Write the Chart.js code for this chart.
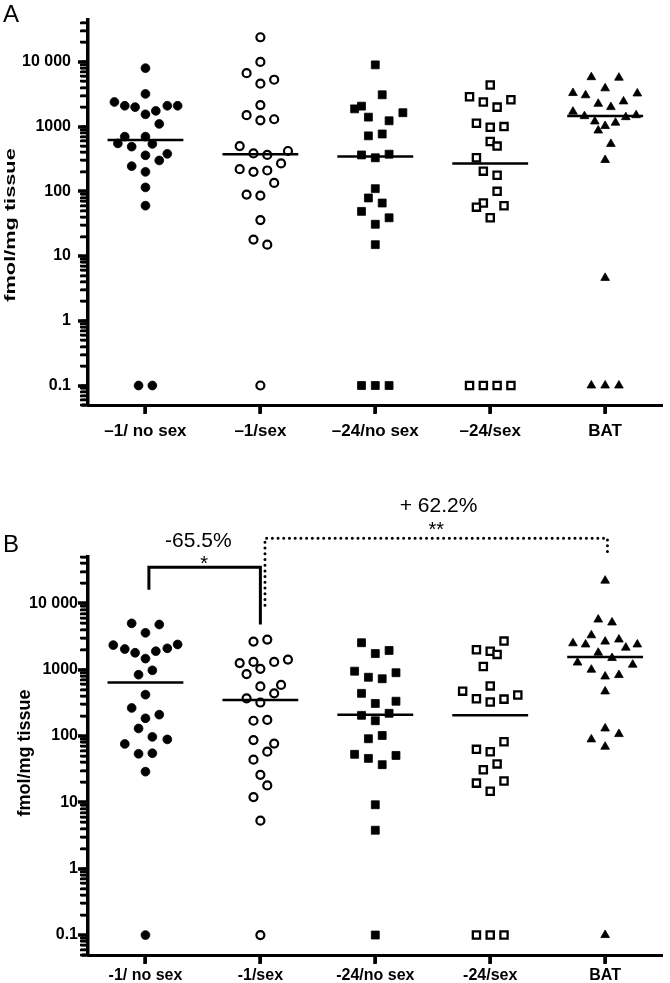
<!DOCTYPE html>
<html>
<head>
<meta charset="utf-8">
<script src="https://cdn.jsdelivr.net/npm/chart.js@4.4.1/dist/chart.umd.min.js"></script>
<style>
  html, body { margin: 0; padding: 0; background: #fff; }
  #wrap { position: relative; width: 670px; height: 983px; overflow: hidden; }
  canvas { position: absolute; left: 0; }
  #chartA { top: 0; }
  #chartB { top: 470px; }
</style>
</head>
<body>
<div id="wrap">
  <canvas id="chartA" width="670" height="450"></canvas>
  <canvas id="chartB" width="670" height="513"></canvas>
</div>
<script>
const FONT = "'Liberation Sans', Arial, Helvetica, sans-serif";

const categoriesA = ["\u20131/ no sex", "\u20131/sex", "\u201324/no sex", "\u201324/sex", "BAT"];
const categoriesB = ["-1/ no sex", "-1/sex", "-24/no sex", "-24/sex", "BAT"];
const yTickValues = [0.1, 1, 10, 100, 1000, 10000];
const yTickLabels = ["0.1", "1", "10", "100", "1000", "10 000"];

// panel A: fmol/mg tissue per animal (0.1 = not detected), jitter = horizontal spread in category units
const aNoSex1 = [8000, 3200, 2400, 2100, 2000, 1550, 1750, 2100, 2100, 1100, 700, 700, 550, 490, 540, 360, 380, 300, 245, 200, 115, 60, 0.1, 0.1];
const aNoSex1Jitter = [0, 0, -0.27, -0.18, -0.09, 0, 0.09, 0.19, 0.28, 0.12, -0.18, 0, -0.24, -0.12, 0.06, 0, 0.19, 0.12, -0.12, 0, 0, 0, -0.06, 0.06];
const aSex1 = [24000, 10000, 6700, 5300, 4600, 2150, 1500, 1250, 1300, 500, 385, 365, 420, 220, 200, 210, 270, 135, 89, 86, 36, 18, 15, 0.1];
const aSex1Jitter = [0, 0, -0.12, 0.12, 0, 0, -0.12, 0, 0.12, -0.18, -0.06, 0.06, 0.24, -0.18, -0.06, 0.06, 0.18, 0.12, -0.12, 0, 0, -0.06, 0.06, 0];
const aNoSex24 = [9000, 3100, 2070, 1880, 1640, 1400, 1230, 720, 770, 365, 330, 375, 110, 79, 66, 49, 39, 31, 15, 0.1, 0.1, 0.1];
const aNoSex24Jitter = [0, 0.06, -0.12, -0.18, 0.24, -0.06, 0.12, -0.06, 0.06, -0.12, 0, 0.12, 0, -0.06, 0.06, -0.12, 0.12, 0, 0, -0.12, 0, 0.12];
const aSex24 = [4400, 2900, 2400, 2000, 2600, 1130, 980, 1000, 590, 500, 330, 205, 177, 100, 66, 57, 60, 39, 0.1, 0.1, 0.1, 0.1];
const aSex24Jitter = [0, -0.18, -0.06, 0.06, 0.18, -0.12, 0, 0.12, 0, 0.06, -0.12, -0.06, 0.06, 0.06, -0.06, -0.12, 0.12, 0, -0.18, -0.06, 0.06, 0.18];
const aBat = [5800, 5700, 3300, 3050, 3900, 3250, 2250, 2000, 2450, 1700, 1450, 1200, 1020, 1150, 1400, 1500, 870, 540, 305, 4.6, 0.1, 0.1, 0.1];
const aBatJitter = [-0.12, 0.12, -0.28, -0.17, 0, 0.28, -0.06, 0.05, 0.16, -0.28, -0.18, -0.09, 0, 0.09, 0.18, 0.27, -0.06, 0.05, 0, 0, -0.12, 0, 0.12];
const aMedians = [620, 375, 345, 268, 1460];

// panel B
const bNoSex1 = [5000, 4800, 3600, 2350, 2050, 1800, 1470, 1900, 2100, 2400, 840, 980, 420, 265, 210, 185, 130, 97, 89, 76, 54, 55, 29, 0.1];
const bNoSex1Jitter = [-0.12, 0.12, 0, -0.28, -0.18, -0.09, 0, 0.09, 0.19, 0.28, -0.06, 0.06, 0, -0.12, 0.12, 0, -0.06, 0.06, 0.19, -0.18, -0.06, 0.06, 0, 0];
const bSex1 = [2650, 2850, 1260, 1310, 1310, 1420, 1030, 860, 560, 590, 440, 370, 320, 170, 175, 87, 77, 58, 44, 26, 18, 12, 5.3, 0.1];
const bSex1Jitter = [-0.06, 0.06, -0.18, -0.06, 0.12, 0.24, 0, -0.12, 0, 0.18, 0.12, -0.12, 0, -0.06, 0.06, -0.06, 0.12, 0.06, -0.06, 0, 0.06, -0.06, 0, 0];
const bNoSex24 = [2550, 1750, 1950, 950, 770, 730, 900, 440, 310, 335, 205, 170, 220, 91, 102, 53, 46, 37, 51, 9.2, 3.8, 0.1];
const bNoSex24Jitter = [-0.12, 0, 0.12, -0.18, -0.06, 0.06, 0.18, -0.12, 0, 0.18, -0.12, 0, 0.12, -0.06, 0.06, -0.18, -0.06, 0.06, 0.18, 0, 0, 0];
const bSex24 = [2700, 2000, 1900, 1700, 1120, 570, 475, 365, 325, 360, 415, 63, 58, 82, 31, 38, 19.5, 21, 14.7, 0.1, 0.1, 0.1];
const bSex24Jitter = [0.12, -0.12, 0, 0.06, -0.06, 0, -0.24, -0.12, 0, 0.12, 0.24, -0.12, 0, 0.12, -0.06, 0.06, -0.12, 0.12, 0, -0.12, 0, 0.12];
const bBat = [22000, 5700, 5150, 3300, 2500, 2400, 2650, 2850, 2150, 2400, 1800, 1500, 1280, 1190, 1000, 790, 830, 470, 130, 89, 107, 69, 0.1];
const bBatJitter = [0, -0.06, 0.06, -0.12, -0.28, -0.17, 0, 0.12, 0.18, 0.28, -0.06, 0.06, -0.24, 0.24, -0.12, 0, 0.12, 0, 0, -0.12, 0.12, 0, 0];
const bMedians = [640, 350, 210, 205, 1550];

// marker look per group
const markers = [
  { style: "circle", r: 4.4, bg: "#000", bw: 0.8 },
  { style: "circle", r: 4, bg: "#fff", bw: 2.2 },
  { style: "rect", r: 5.6, bg: "#000", bw: 0.8 },
  { style: "rect", r: 5.1, bg: "#fff", bw: 2.3 },
  { style: "triangle", r: 5, bg: "#000", bw: 0.8 },
];

function buildDatasets(groups, medians) {
  const ds = [];
  medians.forEach((m, i) => {
    ds.push({
      type: "line",
      data: [{ x: i - 0.33, y: m }, { x: i + 0.33, y: m }],
      borderColor: "#000",
      borderWidth: 2.5,
      pointRadius: 0,
    });
  });
  groups.forEach(([vals, jit], i) => {
    const mk = markers[i];
    ds.push({
      type: "scatter",
      data: vals.map((v, k) => ({ x: i + jit[k], y: v })),
      pointStyle: mk.style,
      pointRadius: mk.r,
      backgroundColor: mk.bg,
      borderColor: "#000",
      borderWidth: mk.bw,
    });
  });
  return ds;
}

// decade ticks plus the 2..9 minor ticks inside the axis range
function logTicks(min, max) {
  const out = [];
  for (let e = -2; e <= 4; e++) {
    for (let k = 1; k <= 9; k++) {
      const v = +(k * Math.pow(10, e)).toPrecision(6);
      if (v >= min && v <= max) out.push({ value: v, major: k === 1 });
    }
  }
  return out;
}

const decorPlugin = {
  id: "decor",
  afterDraw(chart, args, o) {
    const ctx = chart.ctx;
    const ys = chart.scales.y, xs = chart.scales.x;
    const area = chart.chartArea;
    ctx.save();
    ctx.fillStyle = "#000";
    ctx.strokeStyle = "#000";

    // tick marks as solid bars on the outside of the axes
    ys.ticks.forEach((t) => {
      const py = Math.round(ys.getPixelForValue(t.value));
      const len = t.major ? 10 : 8;
      const w = t.major ? 3.5 : 2.5;
      ctx.fillRect(area.left - len, py - w / 2, len, w);
    });
    xs.ticks.forEach((t) => {
      const px = Math.round(xs.getPixelForValue(t.value));
      ctx.fillRect(px - 1.75, area.bottom, 3.5, 9);
    });
    // x axis line runs a little past the y axis
    ctx.fillRect(area.left - 6, area.bottom - 1.5, 6, 3);

    // panel letter
    ctx.font = "24px " + FONT;
    ctx.textAlign = "left";
    ctx.textBaseline = "alphabetic";
    ctx.fillText(o.letter, 3, o.letterY);
    // y axis title
    ctx.save();
    ctx.translate(o.titleX, o.titleY);
    ctx.rotate(-Math.PI / 2);
    ctx.scale(o.titleStretch, 1);
    ctx.font = "bold " + o.titleSize + "px " + FONT;
    ctx.textAlign = "center";
    ctx.textBaseline = "middle";
    ctx.fillText("fmol/mg tissue", 0, 0);
    ctx.restore();

    if (o.annotate) {
      const xl = xs.getPixelForValue(0.03), xr = xs.getPixelForValue(1);
      const yt = ys.getPixelForValue(35000);
      ctx.lineWidth = 3;
      ctx.lineCap = "butt";
      ctx.beginPath();
      ctx.moveTo(xl, ys.getPixelForValue(16000));
      ctx.lineTo(xl, yt);
      ctx.lineTo(xr, yt);
      ctx.lineTo(xr, ys.getPixelForValue(4800));
      ctx.stroke();

      const dx1 = xs.getPixelForValue(1.04), dx2 = xs.getPixelForValue(4.02);
      const dTop = yt - 29;
      ctx.lineWidth = 3;
      ctx.lineCap = "round";
      ctx.setLineDash([0.01, 5.7]);
      ctx.beginPath();
      ctx.moveTo(dx1, ys.getPixelForValue(9400));
      ctx.lineTo(dx1, dTop);
      ctx.lineTo(dx2, dTop);
      ctx.lineTo(dx2, dTop + 15);
      ctx.stroke();
      ctx.setLineDash([]);

      ctx.textAlign = "center";
      ctx.textBaseline = "alphabetic";
      ctx.font = "21px " + FONT;
      ctx.fillText("-65.5%", xs.getPixelForValue(0.46), yt - 20);
      ctx.fillText("+ 62.2%", xs.getPixelForValue(2.55), dTop - 26);
      ctx.font = "20px " + FONT;
      ctx.fillText("*", xs.getPixelForValue(0.51), yt + 3);
      ctx.fillText("**", xs.getPixelForValue(2.53), dTop - 2);
    }
    ctx.restore();
  },
};

function makePanel(id, o) {
  return new Chart(document.getElementById(id), {
    data: { datasets: buildDatasets(o.groups, o.medians) },
    plugins: [decorPlugin],
    options: {
      responsive: false,
      animation: false,
      layout: { padding: { top: o.padTop, right: 3, left: 0, bottom: 0 } },
      scales: {
        x: {
          type: "linear",
          min: -0.5,
          max: 4.5,
          afterBuildTicks: (s) => { s.ticks = o.categories.map((c, i) => ({ value: i })); },
          afterFit: (s) => { s.height = o.xHeight; },
          ticks: {
            callback: (v, i) => o.categories[i],
            font: { family: FONT, size: o.xFont, weight: "bold" },
            color: "#000",
            padding: o.xPad,
            maxRotation: 0,
            autoSkip: false,
          },
          grid: { drawOnChartArea: false, tickLength: 8, tickWidth: 3, tickColor: "#000" },
          border: { display: true, width: 3, color: "#000" },
        },
        y: {
          type: "logarithmic",
          min: 0.05,
          max: o.yMax,
          afterBuildTicks: (s) => { s.ticks = logTicks(0.05, o.yMax); },
          afterFit: (s) => { s.width = 88; },
          ticks: {
            callback: (v) => {
              const i = yTickValues.indexOf(v);
              return i < 0 ? "" : yTickLabels[i];
            },
            font: { family: FONT, size: 16, weight: "bold" },
            color: "#000",
            padding: o.yPad,
            autoSkip: false,
          },
          grid: { drawOnChartArea: false, tickLength: 7, tickWidth: 2, tickColor: "#000" },
          border: { display: true, width: 3.5, color: "#000" },
        },
      },
      plugins: {
        legend: { display: false },
        tooltip: { enabled: false },
        decor: o.decor,
      },
    },
  });
}

makePanel("chartA", {
  groups: [[aNoSex1, aNoSex1Jitter], [aSex1, aSex1Jitter], [aNoSex24, aNoSex24Jitter], [aSex24, aSex24Jitter], [aBat, aBatJitter]],
  medians: aMedians,
  categories: categoriesA,
  yMax: 45000,
  padTop: 18,
  xHeight: 45,
  xFont: 17,
  xPad: 8,
  yPad: 10,
  decor: { letter: "A", letterY: 22, titleX: 11, titleY: 225, titleSize: 15, titleStretch: 1.45, annotate: false },
});

makePanel("chartB", {
  groups: [[bNoSex1, bNoSex1Jitter], [bSex1, bSex1Jitter], [bNoSex24, bNoSex24Jitter], [bSex24, bSex24Jitter], [bBat, bBatJitter]],
  medians: bMedians,
  categories: categoriesB,
  yMax: 50000,
  padTop: 87,
  xHeight: 28,
  xFont: 16,
  xPad: 3,
  yPad: 3,
  decor: { letter: "B", letterY: 82, titleX: 25, titleY: 283, titleSize: 18, titleStretch: 1, annotate: true },
});
</script>
</body>
</html>
